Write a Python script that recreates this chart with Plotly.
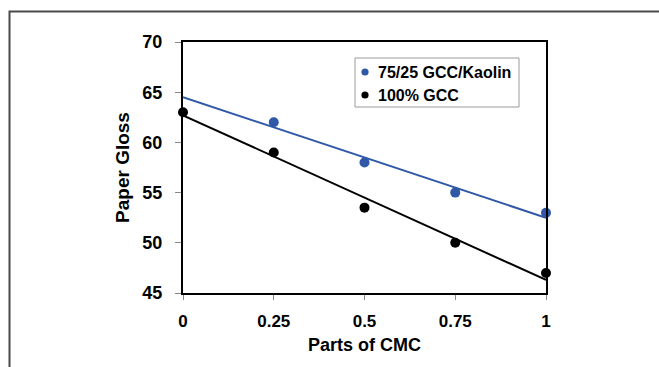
import numpy as np
import plotly.graph_objects as go

# CMC dosage (parts) and measured paper gloss
cmc_blend = [0.25, 0.5, 0.75, 1.0]
gloss_blend = [62, 58, 55, 53]          # 75/25 GCC/Kaolin
cmc_gcc = [0.0, 0.25, 0.5, 0.75, 1.0]
gloss_gcc = [63, 59, 53.5, 50, 47]      # 100% GCC

series_names = ["75/25 GCC/Kaolin", "100% GCC"]

x_ticks = [0, 0.25, 0.5, 0.75, 1]
x_tick_text = ["0", "0.25", "0.5", "0.75", "1"]
y_ticks = [45, 50, 55, 60, 65, 70]

BLUE = "#2F58A6"
BLACK = "#000000"
FONT = "Liberation Sans, Arial, sans-serif"

fig = go.Figure()

def trend(xs, ys):
    k, b = np.polyfit(xs, ys, 1)
    xx = np.array([0.0, 1.0])
    return xx, k * xx + b

# linear trend lines
for xs, ys, col in [(cmc_blend, gloss_blend, BLUE), (cmc_gcc, gloss_gcc, BLACK)]:
    tx, ty = trend(xs, ys)
    fig.add_trace(go.Scatter(x=tx, y=ty, mode="lines", line=dict(color=col, width=2),
                             showlegend=False, hoverinfo="skip", cliponaxis=False))

fig.add_trace(go.Scatter(x=cmc_blend, y=gloss_blend, mode="markers", name=series_names[0],
                         marker=dict(color=BLUE, size=10), cliponaxis=False, showlegend=False))
fig.add_trace(go.Scatter(x=cmc_gcc, y=gloss_gcc, mode="markers", name=series_names[1],
                         marker=dict(color=BLACK, size=10), cliponaxis=False, showlegend=False))

# plot geometry in pixels, used for the frame, key box and axis title
W, H = 659, 367
ml, mr, mt, mb = 183, 113, 42, 74
pw, ph = W - ml - mr, H - mt - mb
def px(x):
    return (x - ml) / pw
def py(y):
    return (H - mb - y) / ph

# outer frame (left and top edges)
fig.add_shape(type="path", xref="paper", yref="paper",
              path=f"M {px(9.5)},{py(367)} L {px(9.5)},{py(11.5)} L {px(659)},{py(11.5)}",
              line=dict(color="#4a4a4a", width=2))

# key box with a small dot and a label per series
fig.add_shape(type="rect", xref="paper", yref="paper",
              x0=px(355), x1=px(519), y0=py(107), y1=py(58),
              line=dict(color="#9a9a9a", width=1), fillcolor="white", layer="above")
for i, (name, col) in enumerate(zip(series_names, [BLUE, BLACK])):
    cy = 72 + 23 * i
    r = 3.6
    fig.add_shape(type="circle", xref="paper", yref="paper",
                  x0=px(365 - r), x1=px(365 + r), y0=py(cy + r), y1=py(cy - r),
                  fillcolor=col, line=dict(color=col, width=0), layer="above")
    fig.add_annotation(xref="paper", yref="paper", x=px(376), y=py(cy),
                       xanchor="left", yanchor="middle", showarrow=False, text=name,
                       font=dict(family=FONT, size=16, color="black", weight="bold"))

# x-axis title
fig.add_annotation(xref="paper", yref="paper", x=0.5, y=py(345),
                   xanchor="center", yanchor="middle", showarrow=False,
                   text="Parts of CMC",
                   font=dict(family=FONT, size=18, color="black", weight="bold"))

fig.update_layout(
    width=W, height=H,
    margin=dict(l=ml, r=mr, t=mt, b=mb),
    paper_bgcolor="white", plot_bgcolor="white",
    font=dict(family=FONT, color="black"),
    showlegend=False,
    xaxis=dict(range=[0, 1], tickvals=x_ticks, ticktext=x_tick_text,
               showgrid=False, zeroline=False, showline=True, mirror=True,
               linecolor="black", linewidth=2, ticks="outside", ticklen=5,
               tickcolor="#888888", tickwidth=1, ticklabelstandoff=7,
               tickfont=dict(size=17, weight="bold")),
    yaxis=dict(range=[45, 70], tickvals=y_ticks,
               showgrid=False, zeroline=False, showline=True, mirror=True,
               linecolor="black", linewidth=2, ticks="outside", ticklen=6,
               tickcolor="#888888", tickwidth=1, ticklabelstandoff=9,
               tickfont=dict(size=18, weight="bold"),
               title=dict(text="Paper Gloss", standoff=8,
                          font=dict(size=19, weight="bold"))),
)

fig.write_html("out.html")
